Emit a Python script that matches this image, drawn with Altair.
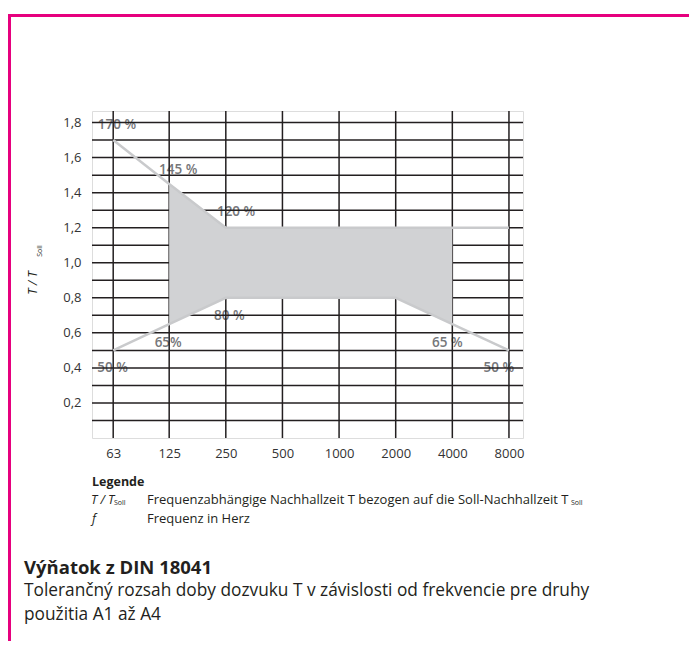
import altair as alt
import pandas as pd

# ---------------- data ----------------
freqs = [63, 125, 250, 500, 1000, 2000, 4000, 8000]
y_grid = [0.1, 0.2, 0.3, 0.4, 0.5, 0.6, 0.7, 0.8, 0.9, 1.0,
          1.1, 1.2, 1.3, 1.4, 1.5, 1.6, 1.7, 1.8]
y_ticks = [0.2, 0.4, 0.6, 0.8, 1.0, 1.2, 1.4, 1.6, 1.8]

band_f = [125, 250, 2000, 4000]
band_upper = [1.45, 1.2, 1.2, 1.2]
band_lower = [0.65, 0.8, 0.8, 0.65]

upper_f = [63, 125, 250, 8000]
upper_v = [1.7, 1.45, 1.2, 1.2]
lower_f = [63, 125, 250, 2000, 4000, 8000]
lower_v = [0.5, 0.65, 0.8, 0.8, 0.65, 0.5]

label_text = ["170 %", "145 %", "120 %", "80 %", "65%", "50 %", "65 %", "50 %"]
label_f = [66, 139.5, 283.5, 261, 123.5, 62.5, 3762, 7073]
label_v = [1.787, 1.53, 1.292, 0.694, 0.544, 0.402, 0.544, 0.402]

FONT = "Open Sans"
W, H = 431, 327

xscale = alt.Scale(type="log", base=2, domain=[48.6, 9500], nice=False)
yscale = alt.Scale(domain=[0, 1.866], nice=False, zero=False)

band_df = pd.DataFrame({"f": band_f, "hi": band_upper, "lo": band_lower})
lines_df = pd.DataFrame({
    "f": upper_f + lower_f,
    "v": upper_v + lower_v,
    "s": ["upper"] * len(upper_f) + ["lower"] * len(lower_f),
})
labels_df = pd.DataFrame({"f": label_f, "v": label_v, "t": label_text})

xaxis = alt.Axis(values=freqs, grid=False, ticks=False, domain=False,
                 labelFont=FONT, labelFontSize=13, labelColor="#333333",
                 labelPadding=9, title=None, format="d", labelFlush=False)
yaxis = alt.Axis(values=y_ticks, grid=False, ticks=False, domain=False,
                 labelFont=FONT, labelFontSize=13, labelColor="#333333",
                 labelPadding=11, title=None,
                 labelExpr="replace(format(datum.value, '.1f'), '.', ',')")

# percentage labels (under the grid)
labels = alt.Chart(labels_df).mark_text(
    font=FONT, fontSize=13.5, fontWeight=600, color="#76777a",
    align="center", baseline="middle"
).encode(
    x=alt.X("f:Q", scale=xscale, axis=xaxis),
    y=alt.Y("v:Q", scale=yscale, axis=yaxis),
    text="t:N",
)

vgrid = alt.Chart(pd.DataFrame({"f": freqs})).mark_rule(
    color="#231f20", strokeWidth=1.5
).encode(x=alt.X("f:Q", scale=xscale))

hgrid = alt.Chart(pd.DataFrame({"v": y_grid})).mark_rule(
    color="#231f20", strokeWidth=1.5
).encode(y=alt.Y("v:Q", scale=yscale))

band = alt.Chart(band_df).mark_area(color="#d1d2d4", opacity=1).encode(
    x=alt.X("f:Q", scale=xscale),
    y=alt.Y("hi:Q", scale=yscale),
    y2="lo:Q",
)

bounds = alt.Chart(lines_df).mark_line(color="#c9cacc", strokeWidth=2.5).encode(
    x=alt.X("f:Q", scale=xscale),
    y=alt.Y("v:Q", scale=yscale),
    detail="s:N",
)


def txt(s, x, y, size=12, weight="normal", style="normal", angle=0,
        color="#231f20", align="left"):
    return alt.Chart(pd.DataFrame({"t": [s]})).mark_text(
        font=FONT, fontSize=size, fontWeight=weight, fontStyle=style,
        angle=angle, color=color, align=align, baseline="middle"
    ).encode(x=alt.value(x), y=alt.value(y), text="t:N")


# y-axis title (rotated)
ytitle = txt("T / T", -59, 172, size=12.5, style="italic", angle=270, align="center")
ysub = txt("Soll", -52, 140, size=7, angle=270, align="center")

# legend block
leg = [
    txt("Legende", 0, 371, size=12.5, weight="bold"),
    txt("T / T", -1, 389, size=12.5, style="italic"),
    txt("Soll", 22, 392, size=7),
    txt("Frequenzabhängige Nachhallzeit T bezogen auf die Soll-Nachhallzeit T",
        55, 389, size=13),
    txt("Soll", 479, 392, size=7),
    txt("f", 0, 408, size=12.5, style="italic"),
    txt("Frequenz in Herz", 55, 408, size=13),
]

# caption
cap = [
    txt("Výňatok z DIN 18041", -68, 457, size=18.5, weight="bold"),
    txt("Tolerančný rozsah doby dozvuku T v závislosti od frekvencie pre druhy",
        -68, 480, size=17.3),
    txt("použitia A1 až A4", -68, 504, size=17.3),
]

# magenta page frame
MAG = "#e6007e"
frame_top = alt.Chart(pd.DataFrame({"a": [0]})).mark_rule(
    color=MAG, strokeWidth=3).encode(
    x=alt.value(-86), x2=alt.value(600), y=alt.value(-95.5))
frame_left = alt.Chart(pd.DataFrame({"a": [0]})).mark_rule(
    color=MAG, strokeWidth=3).encode(
    x=alt.value(-82.5), y=alt.value(-97), y2=alt.value(540))

chart = alt.layer(
    labels, vgrid, hgrid, band, bounds, ytitle, ysub, *leg, *cap,
    frame_top, frame_left
).properties(
    width=W, height=H,
    autosize=alt.AutoSizeParams(type="none"),
    padding={"left": 84, "top": 103, "right": 166, "bottom": 203},
).configure_view(
    stroke="#333333", strokeWidth=1.5
).configure(background="white")

chart.save("out.html", embed_options={"renderer": "svg", "actions": False})
